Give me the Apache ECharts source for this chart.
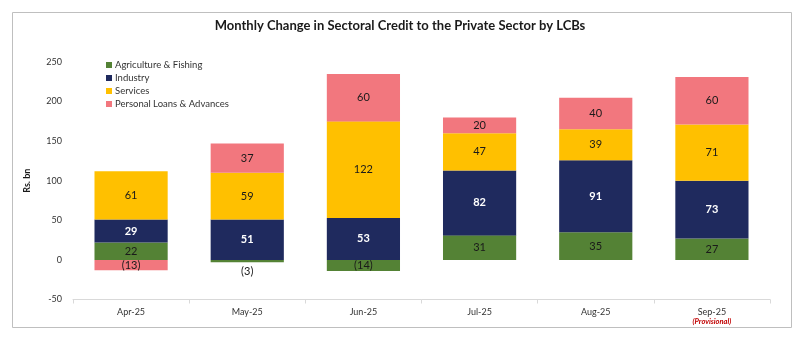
<!DOCTYPE html>
<html>
<head>
<meta charset="utf-8">
<script src="https://cdn.jsdelivr.net/npm/echarts@6/dist/echarts.min.js"></script>
<style>
html,body{margin:0;padding:0;background:#fff;}
#c{width:800px;height:339px;}
</style>
</head>
<body>
<div id="c"></div>
<script>
const categories = ['Apr-25','May-25','Jun-25','Jul-25','Aug-25','Sep-25'];
const categoryNotes = ['','','','','','(Provisional)'];
const seriesNames = ['Agriculture & Fishing','Industry','Services','Personal Loans & Advances'];
const agriculture = [22, -3, -14, 31, 35, 27];
const industry = [29, 51, 53, 82, 91, 73];
const services = [61, 59, 122, 47, 39, 71];
const personal = [-13, 37, 60, 20, 40, 60];
const yTicks = {min: -50, max: 250, interval: 50};

const colors = ['#548235', '#1F2A5E', '#FFC000', '#F2777E'];
const labelColors = ['#1a1a1a', '#ffffff', '#1a1a1a', '#1a1a1a'];
const FONT = 'Lato, "Open Sans", sans-serif';

function fmt(v){ return v < 0 ? '(' + Math.abs(v) + ')' : String(v); }

function buildData(arr){
  return arr.map(v => {
    if (Math.abs(v) < 6) {
      return {value: v, label: {position: v < 0 ? 'bottom' : 'top', distance: 4, color: '#1a1a1a'}};
    }
    return v;
  });
}

const allData = [agriculture, industry, services, personal];
const series = allData.map((arr, i) => ({
  name: seriesNames[i],
  type: 'bar',
  stack: 'total',
  xAxisIndex: 0,
  barCategoryGap: '37%',
  itemStyle: {color: colors[i]},
  label: {
    show: true,
    position: 'inside',
    color: labelColors[i],
    fontFamily: FONT,
    fontSize: 11,
    fontWeight: i === 1 ? 'bold' : 'normal',
    formatter: p => fmt(p.value)
  },
  data: buildData(arr)
}));

const chart = echarts.init(document.getElementById('c'));
chart.setOption({
  animation: false,
  title: {
    text: 'Monthly Change in Sectoral Credit to the Private Sector by LCBs',
    left: 'center',
    top: 14,
    textStyle: {fontFamily: FONT, fontSize: 13, fontWeight: 'bold', color: '#1a1a1a'}
  },
  legend: {
    orient: 'vertical',
    left: 101,
    top: 55,
    itemWidth: 6,
    itemHeight: 6,
    itemGap: 3,
    icon: 'rect',
    textStyle: {fontFamily: FONT, fontSize: 9.5, color: '#333', padding: [0,0,0,-2]},
    data: seriesNames
  },
  grid: {left: 73, right: 30, top: 62, bottom: 39.5},
  xAxis: [{
    type: 'category',
    data: categories,
    position: 'bottom',
    axisLine: {show: false},
    axisTick: {show: false},
    axisLabel: {
      fontFamily: FONT, fontSize: 9, color: '#333', margin: 8, lineHeight: 10,
      formatter: (v, idx) => categoryNotes[idx] ? v + '\n{p|' + categoryNotes[idx] + '}' : v,
      rich: {p: {fontFamily: FONT, fontSize: 7.5, fontStyle: 'italic', fontWeight: 'bold', color: '#C00000', lineHeight: 9}}
    }
  }, {
    type: 'category',
    data: categories,
    position: 'bottom',
    axisLine: {show: true, onZero: true, lineStyle: {color: '#D9D9D9', width: 1}},
    axisTick: {show: true, length: 4, lineStyle: {color: '#D9D9D9'}},
    axisLabel: {show: false}
  }],
  yAxis: {
    type: 'value',
    min: yTicks.min,
    max: yTicks.max,
    interval: yTicks.interval,
    name: 'Rs. bn',
    nameLocation: 'middle',
    nameRotate: 90,
    nameGap: 41,
    nameTextStyle: {fontFamily: FONT, fontSize: 9, fontWeight: 'bold', color: '#1a1a1a'},
    axisLine: {show: false},
    axisTick: {show: false},
    splitLine: {show: false},
    axisLabel: {fontFamily: FONT, fontSize: 9, color: '#333', margin: 11}
  },
  graphic: [{
    type: 'rect',
    shape: {x: 12.5, y: 12.5, width: 779, height: 315},
    style: {fill: 'none', stroke: '#BFBFBF', lineWidth: 1},
    silent: true
  }],
  series: series
});
</script>
</body>
</html>
